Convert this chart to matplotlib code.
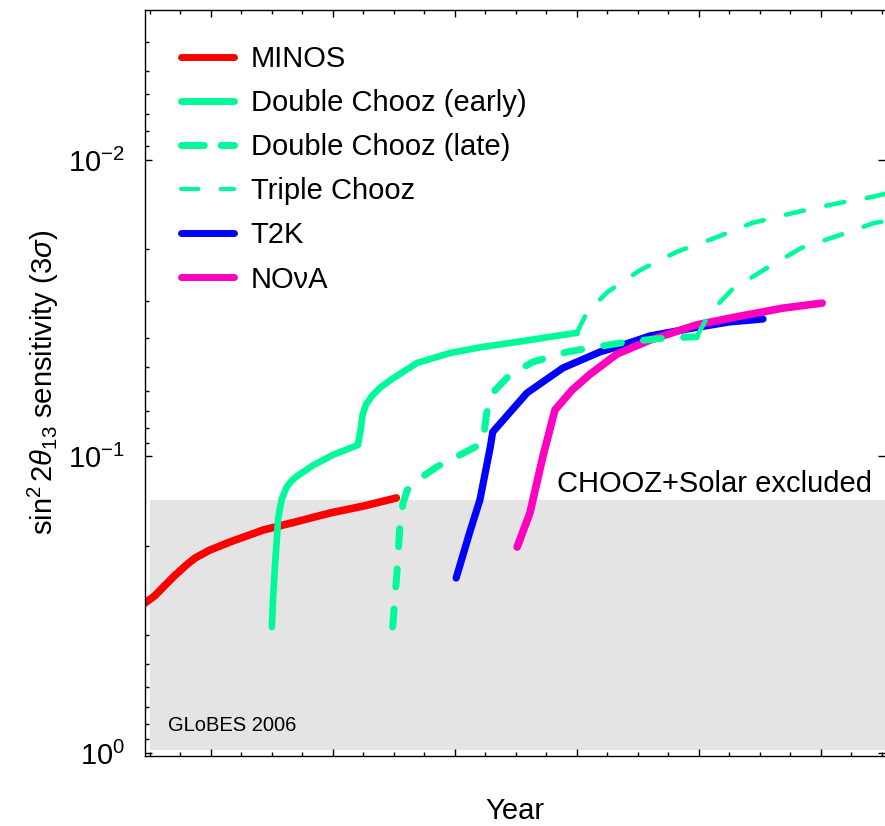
import matplotlib
matplotlib.use("Agg")
import matplotlib.pyplot as plt
from matplotlib.lines import Line2D
from matplotlib.patches import Rectangle
from matplotlib.ticker import LogLocator, NullFormatter, MultipleLocator, LogFormatterMathtext

plt.rcParams['font.family'] = ['Liberation Sans', 'DejaVu Sans']
plt.rcParams['mathtext.fontset'] = 'custom'
plt.rcParams['mathtext.rm'] = 'Liberation Sans'
plt.rcParams['mathtext.it'] = 'Liberation Sans:italic'
plt.rcParams['mathtext.bf'] = 'Liberation Sans:bold'

# ---- sensitivity curves: year vs. sin^2(2 theta13) reach (3 sigma) ----
minos_year = [2005.46, 2005.54, 2005.62, 2005.70, 2005.79, 2005.87, 2005.99, 2006.16, 2006.43,
              2006.70, 2006.98, 2007.25, 2007.52]
minos_sens = [0.312, 0.295, 0.273, 0.253, 0.234, 0.220, 0.207, 0.194, 0.177,
              0.166, 0.155, 0.147, 0.138]

dc_early_year = [2006.50, 2006.51, 2006.525, 2006.54, 2006.55, 2006.565, 2006.58, 2006.60, 2006.62,
                 2006.66, 2006.70, 2006.84, 2007.00, 2007.205, 2007.227, 2007.243, 2007.27, 2007.32,
                 2007.385, 2007.484, 2007.689, 2007.959, 2008.23, 2008.51, 2008.78, 2009.00]
dc_early_sens = [0.376, 0.297, 0.235, 0.191, 0.164, 0.150, 0.140, 0.133, 0.127,
                 0.121, 0.117, 0.107, 0.0988, 0.0915, 0.0814, 0.0724, 0.0670, 0.0625,
                 0.0587, 0.0548, 0.0484, 0.0448, 0.0427, 0.0411, 0.0395, 0.0383]

dc_late_year = [2007.49, 2007.51, 2007.53, 2007.55, 2007.575, 2007.61, 2007.66, 2007.85, 2008.12,
                2008.23, 2008.26, 2008.33, 2008.45, 2008.64, 2008.92, 2009.16, 2009.41, 2009.74, 2009.98]
dc_late_sens = [0.376, 0.293, 0.232, 0.168, 0.1435, 0.1297, 0.1229, 0.1085, 0.0951,
                0.0901, 0.0713, 0.0597, 0.0531, 0.0480, 0.0444, 0.0427, 0.0411, 0.0398, 0.0395]

triple_a_year = [2009.00, 2009.08, 2009.25, 2009.52, 2009.82, 2010.15, 2010.44, 2010.77, 2011.10, 2011.43, 2011.53]
triple_a_sens = [0.0383, 0.0328, 0.0279, 0.0235, 0.0204, 0.0182, 0.0163, 0.0151, 0.0141, 0.0133, 0.0130]

triple_b_year = [2009.98, 2010.09, 2010.27, 2010.56, 2010.84, 2011.16, 2011.44, 2011.53]
triple_b_sens = [0.0395, 0.0328, 0.0274, 0.0231, 0.0198, 0.0179, 0.0163, 0.0161]

t2k_year = [2008.01, 2008.12, 2008.205, 2008.29, 2008.31, 2008.59, 2008.885, 2009.19, 2009.33,
            2009.60, 2009.95, 2010.25, 2010.525]
t2k_sens = [0.257, 0.181, 0.140, 0.0929, 0.0827, 0.0611, 0.0503, 0.0444, 0.0427,
            0.0392, 0.0369, 0.0352, 0.0344]

nova_year = [2008.51, 2008.615, 2008.72, 2008.82, 2008.96, 2009.11, 2009.33, 2009.60, 2009.98,
             2010.31, 2010.69, 2011.01]
nova_sens = [0.202, 0.155, 0.1004, 0.0697, 0.0597, 0.0527, 0.0451, 0.0405, 0.0360,
             0.0338, 0.0316, 0.0304]

chooz_limit = 0.14
legend_labels = ["MINOS", "Double Chooz (early)", "Double Chooz (late)", "Triple Chooz", "T2K", "NO\u03bdA"]

RED = "#ff0000"
GREEN = "#00fa9a"
BLUE = "#0000ff"
MAGENTA = "#ff00c0"

fig = plt.figure(figsize=(8.85, 8.26), dpi=100)
ax = fig.add_axes([145 / 885, 70 / 826, 740 / 885, 746.5 / 826])

xmin, xmax = 2005.46, 2011.525
ymin_top, ymax_bottom = 0.00311, 1.0235
ax.set_yscale('log')
ax.set_xlim(xmin, xmax)
ax.set_ylim(ymax_bottom, ymin_top)

# excluded region
ax.add_patch(Rectangle((2005.5, chooz_limit), xmax + 0.1 - 2005.5, 0.977 - chooz_limit,
                       facecolor="#e4e4e4", edgecolor="none", zorder=0))

common = dict(solid_capstyle='round', dash_capstyle='round', solid_joinstyle='round', dash_joinstyle='round')
ax.plot(minos_year, minos_sens, color=RED, lw=5.5, zorder=2, **common)
ax.plot(t2k_year, t2k_sens, color=BLUE, lw=5.2, zorder=3, **common)
ax.plot(nova_year, nova_sens, color=MAGENTA, lw=5.5, zorder=4, **common)
ax.plot(dc_early_year, dc_early_sens, color=GREEN, lw=4.8, zorder=5, **common)
ax.plot(dc_late_year, dc_late_sens, color=GREEN, lw=5.0, dashes=(2.6, 3.2), zorder=5, **common)
ax.plot(triple_a_year, triple_a_sens, color=GREEN, lw=3.3, dashes=(4.0, 5.0), zorder=5, **common)
ax.plot(triple_b_year, triple_b_sens, color=GREEN, lw=3.3, dashes=(4.0, 5.0), zorder=5, **common)

# legend proxies
handles = [
    Line2D([], [], color=RED, lw=5, **common),
    Line2D([], [], color=GREEN, lw=5, **common),
    Line2D([], [], color=GREEN, lw=5, dashes=(3.3, 2.4), **common),
    Line2D([], [], color=GREEN, lw=3, dashes=(4.2, 5.3), **common),
    Line2D([], [], color=BLUE, lw=5, **common),
    Line2D([], [], color=MAGENTA, lw=5, **common),
]
ax.legend(handles, legend_labels, loc='upper left', bbox_to_anchor=(0.048, 0.952),
          frameon=False, fontsize=21, handlelength=1.85, handletextpad=0.55,
          labelspacing=0.55, borderpad=0, borderaxespad=0)

ax.text(2008.84, 0.132, "CHOOZ+Solar excluded", fontsize=21, ha='left', va='baseline', zorder=6)
ax.text(2005.648, 0.843, "GLoBES 2006", fontsize=14.5, ha='left', va='baseline', zorder=6)

# axes styling
ax.spines['right'].set_visible(False)
for s in ('left', 'top', 'bottom'):
    ax.spines[s].set_linewidth(1.0)

ax.yaxis.set_major_locator(LogLocator(base=10, numticks=10))
ax.yaxis.set_minor_locator(LogLocator(base=10, subs=range(2, 10), numticks=20))
ax.yaxis.set_major_formatter(LogFormatterMathtext())
ax.yaxis.set_minor_formatter(NullFormatter())
ax.xaxis.set_major_locator(MultipleLocator(1))
ax.xaxis.set_minor_locator(MultipleLocator(0.25))
ax.xaxis.set_major_formatter(NullFormatter())

ax.tick_params(axis='both', which='both', direction='in', top=True, bottom=True, left=True, right=True,
               labelsize=21, width=1.0)
ax.tick_params(axis='both', which='major', length=5, pad=14.4)
ax.tick_params(axis='both', which='minor', length=3)
ax.tick_params(axis='y', which='minor', right=False)

ax.set_ylabel(r"$\sin^2 2\theta_{13}$ sensitivity $(3\sigma)$", fontsize=21)
ax.yaxis.set_label_coords(-0.113, 0.5)
ax.set_xlabel("Year", fontsize=21)
ax.xaxis.set_label_coords(0.5, -0.0543)

fig.savefig("out.png", dpi=100)
